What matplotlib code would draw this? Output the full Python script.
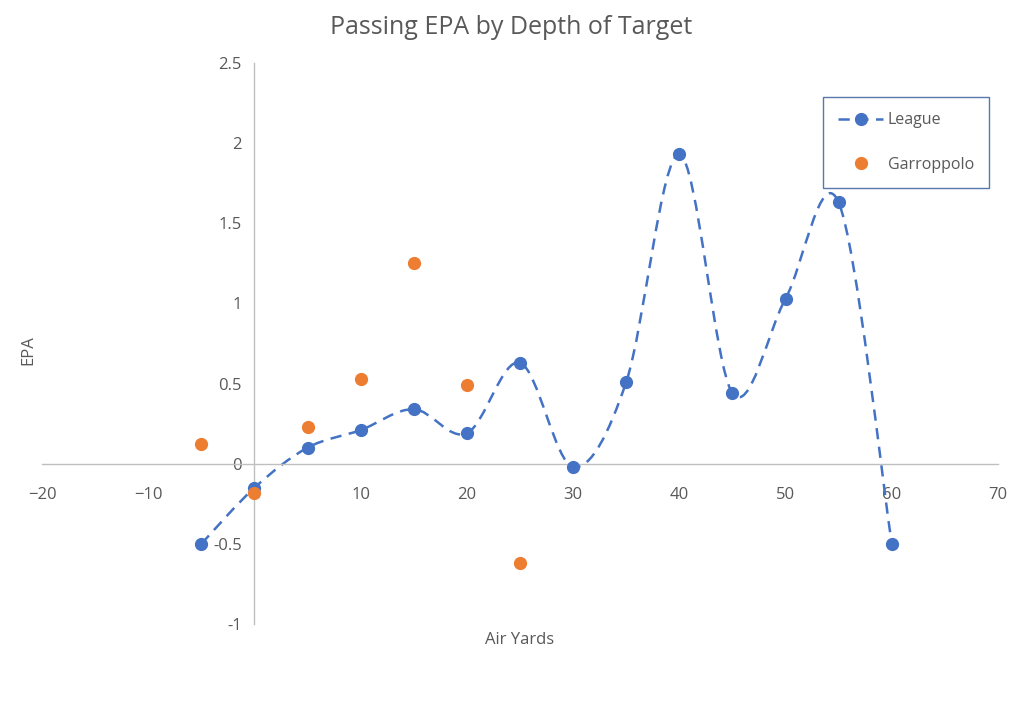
import numpy as np
import matplotlib.pyplot as plt
from matplotlib.path import Path
from matplotlib.patches import PathPatch
from matplotlib.lines import Line2D

# --- data ---
league_x = [-5, 0, 5, 10, 15, 20, 25, 30, 35, 40, 45, 50, 55, 60]
league_epa = [-0.5, -0.15, 0.10, 0.21, 0.34, 0.19, 0.63, -0.02, 0.51, 1.93, 0.44, 1.03, 1.63, -0.5]
garoppolo_x = [-5, 0, 5, 10, 15, 20, 25]
garoppolo_epa = [0.12, -0.18, 0.23, 0.53, 1.25, 0.49, -0.62]

BLUE = "#4472C4"
ORANGE = "#ED7D31"
GREY_TXT = "#595959"
AXIS_GREY = "#BFBFBF"

plt.rcParams['font.family'] = ['Open Sans', 'DejaVu Sans']


def smooth_path(xs, ys):
    # Excel-style smoothed line: cubic Bezier segments, Catmull-Rom tangents
    pts = np.column_stack([xs, ys]).astype(float)
    n = len(pts)
    verts = [pts[0]]
    codes = [Path.MOVETO]
    for i in range(n - 1):
        p0 = pts[i - 1] if i > 0 else pts[i]
        p1 = pts[i]
        p2 = pts[i + 1]
        p3 = pts[i + 2] if i + 2 < n else pts[i + 1]
        c1 = p1 + (p2 - p0) / 6.0
        c2 = p2 - (p3 - p1) / 6.0
        verts += [c1, c2, p2]
        codes += [Path.CURVE4] * 3
    return Path(verts, codes)


fig = plt.figure(figsize=(10.24, 7.09), dpi=100)
ax = fig.add_axes([42 / 1024, 1 - 624 / 709, 956 / 1024, 561 / 709])

dash = (0, (4.5, 3))
patch = PathPatch(smooth_path(league_x, league_epa), facecolor="none", edgecolor=BLUE,
                  lw=1.8, linestyle=dash, zorder=2)
ax.add_patch(patch)
ax.plot(league_x, league_epa, linestyle="none", marker="o", ms=8.5, color=BLUE, zorder=3)
ax.plot(garoppolo_x, garoppolo_epa, linestyle="none", marker="o", ms=8.5, color=ORANGE, zorder=4)

ax.set_xlim(-20, 70)
ax.set_ylim(-1, 2.5)
ax.set_xticks(range(-20, 71, 10))
ax.set_yticks([-1, -0.5, 0, 0.5, 1, 1.5, 2, 2.5])
ax.set_yticklabels(["-1", "-0.5", "0", "0.5", "1", "1.5", "2", "2.5"])

ax.spines['left'].set_position(('data', 0))
ax.spines['bottom'].set_position(('data', 0))
ax.spines['right'].set_visible(False)
ax.spines['top'].set_visible(False)
for s in ('left', 'bottom'):
    ax.spines[s].set_color(AXIS_GREY)
    ax.spines[s].set_linewidth(1.0)
ax.tick_params(length=0, labelsize=12, labelcolor=GREY_TXT)
ax.tick_params(axis='x', pad=17)
ax.tick_params(axis='y', pad=9)
ax.patch.set_visible(False)

fig.text(511 / 1024, 1 - 27 / 709, "Passing EPA by Depth of Target", ha="center", va="center",
         fontsize=18, color=GREY_TXT)
fig.text(520 / 1024, 1 - 640 / 709, "Air Yards", ha="center", va="center",
         fontsize=12, color=GREY_TXT)
fig.text(28 / 1024, 1 - 350 / 709, "EPA", ha="center", va="center", rotation=90,
         fontsize=12, color=GREY_TXT)

handles = [
    Line2D([], [], color=BLUE, lw=1.8, linestyle=dash, marker="o", ms=8.5),
    Line2D([], [], color=ORANGE, linestyle="none", marker="o", ms=8.5),
]
leg = ax.legend(handles, ["League", "Garroppolo"], loc="upper left",
                bbox_to_anchor=((823 - 42) / 956, (624 - 97) / 561),
                frameon=True, fancybox=False, fontsize=11.5, labelspacing=1.8,
                borderpad=0.95, handlelength=2.8, handletextpad=0.3, borderaxespad=0)
leg.get_frame().set_edgecolor("#2F5597")
leg.get_frame().set_linewidth(1.0)
for t in leg.get_texts():
    t.set_color(GREY_TXT)

fig.savefig("out.png", dpi=100)
